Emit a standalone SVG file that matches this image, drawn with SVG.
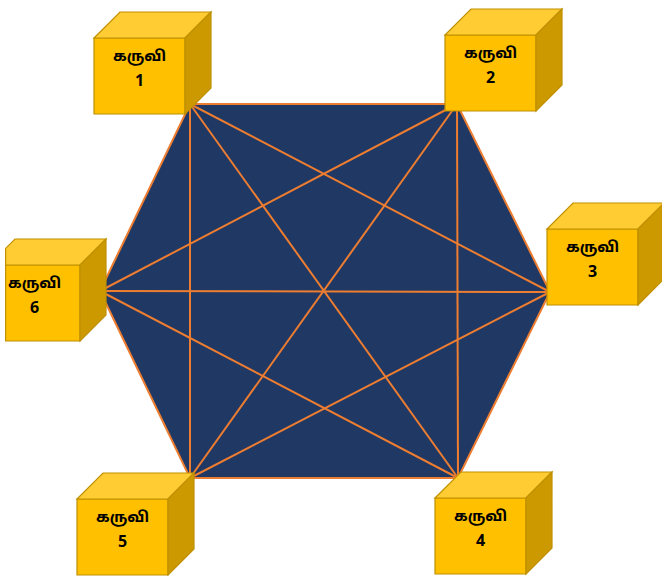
<svg xmlns="http://www.w3.org/2000/svg" width="662" height="576" viewBox="0 0 662 576">
<style>
.hex{fill:#203864;stroke:#ED7D31;stroke-width:2}
.ln{stroke:#ED7D31;stroke-width:2;fill:none}
.front{fill:#FFC000;stroke:#BF9000;stroke-width:1.2}
.top{fill:#FFCD33;stroke:#BF9000;stroke-width:1.2}
.side{fill:#CC9A00;stroke:#BF9000;stroke-width:1.2}
.t{font-family:"Noto Sans Tamil","Latha","Noto Sans","Liberation Sans",sans-serif;font-weight:bold;font-size:15px;fill:#000;text-anchor:middle}
.n{font-size:16px}
</style>
<defs>
<g id="cube">
<path class="front" d="M0,26 H91 V102 H0 Z"/>
<path class="top" d="M0,26 L26,0 H117 L91,26 Z"/>
<path class="side" d="M91,26 L117,0 V76 L91,102 Z"/>
</g>
<clipPath id="leftclip"><rect x="5" y="0" width="657" height="576"/></clipPath>
</defs>
<g id="hexagon">
<polygon class="hex" points="190,104 457,104 550,292 458,478 190,478 100,291"/>
</g>
<g id="connectors">
<line class="ln" x1="190" y1="104" x2="550" y2="292"/>
<line class="ln" x1="190" y1="104" x2="458" y2="478"/>
<line class="ln" x1="190" y1="104" x2="190" y2="478"/>
<line class="ln" x1="457" y1="104" x2="100" y2="291"/>
<line class="ln" x1="457" y1="104" x2="190" y2="478"/>
<line class="ln" x1="457" y1="104" x2="458" y2="478"/>
<line class="ln" x1="550" y1="292" x2="100" y2="291"/>
<line class="ln" x1="550" y1="292" x2="190" y2="478"/>
<line class="ln" x1="458" y1="478" x2="100" y2="291"/>
</g>
<g id="node1" transform="translate(94,12)"><use href="#cube"/><text class="t" x="45.5" y="49">கருவி</text><text class="t n" x="45.5" y="74">1</text></g>
<g id="node2" transform="translate(445,9)"><use href="#cube"/><text class="t" x="45.5" y="49">கருவி</text><text class="t n" x="45.5" y="74">2</text></g>
<g id="node3" transform="translate(547,203)"><use href="#cube"/><text class="t" x="45.5" y="49">கருவி</text><text class="t n" x="45.5" y="74">3</text></g>
<g id="node4" transform="translate(435,472)"><use href="#cube"/><text class="t" x="45.5" y="49">கருவி</text><text class="t n" x="45.5" y="74">4</text></g>
<g id="node5" transform="translate(77,473)"><use href="#cube"/><text class="t" x="45.5" y="49">கருவி</text><text class="t n" x="45.5" y="74">5</text></g>
<g id="node6"><g clip-path="url(#leftclip)"><g transform="translate(-11,239)"><use href="#cube"/><text class="t" x="45.5" y="49">கருவி</text><text class="t n" x="45.5" y="74">6</text></g></g><line x1="5.6" y1="249" x2="5.6" y2="341" stroke="#BF9000" stroke-width="1.2"/></g>
</svg>
